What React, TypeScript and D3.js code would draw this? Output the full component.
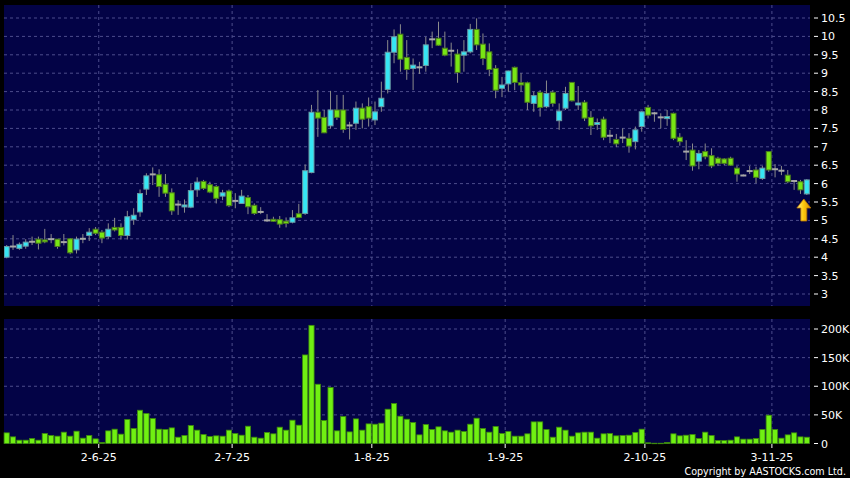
import React from "react";
import * as d3 from "d3";

// daily bars, oldest first (price in HKD, volume in thousands)
const opens = [
  4.0, 4.29, 4.24, 4.3, 4.42, 4.49, 4.47, 4.49, 4.49, 4.41,
  4.5, 4.2, 4.5, 4.59, 4.76, 4.68, 4.56, 4.81, 4.81, 4.59,
  5.02, 5.23, 5.85, 6.25, 6.24, 5.98, 5.75, 5.43, 5.37, 5.36,
  5.83, 6.06, 5.97, 5.92, 5.66, 5.8, 5.53, 5.46, 5.62, 5.41,
  5.23, 5.0, 5.03, 5.02, 4.98, 4.95, 5.18, 5.19, 6.3, 7.94,
  7.8, 7.57, 8.0, 8.0, 7.58, 7.64, 8.05, 8.09, 7.73, 8.09,
  8.56, 9.57, 10.06, 9.43, 9.13, 9.16, 9.21, 9.92, 9.95, 9.68,
  9.61, 9.52, 9.49, 9.58, 10.19, 9.79, 9.58, 9.13, 8.59, 8.71,
  9.16, 8.74, 8.74, 8.18, 8.48, 8.09, 8.48, 7.71, 8.05, 8.75,
  8.15, 8.21, 7.8, 7.62, 7.75, 7.3, 7.2, 7.25, 7.23, 7.14,
  7.55, 8.07, 7.91, 7.8, 7.8, 7.91, 7.26, 6.87, 6.91, 6.61,
  6.87, 6.76, 6.69, 6.67, 6.69, 6.42, 6.22, 6.34, 6.37, 6.14,
  6.87, 6.39, 6.35, 6.23, 6.07, 6.05, 5.72,
];
const highs = [
  4.33, 4.6, 4.4, 4.49, 4.56, 4.56, 4.77, 4.63, 4.49, 4.63,
  4.52, 4.56, 4.63, 4.79, 4.82, 4.74, 4.92, 5.07, 4.92, 5.26,
  5.33, 5.84, 6.28, 6.44, 6.39, 6.26, 5.87, 5.55, 5.57, 5.99,
  6.17, 6.1, 6.05, 5.96, 5.83, 5.84, 5.74, 5.83, 5.69, 5.46,
  5.36, 5.17, 5.1, 5.12, 5.08, 5.28, 5.45, 6.52, 8.14, 8.54,
  8.0, 8.52, 8.41, 8.41, 7.68, 8.23, 8.18, 8.34, 8.23, 8.77,
  9.9, 10.19, 10.33, 9.9, 9.4, 9.31, 9.99, 10.13, 10.4, 10.13,
  9.83, 9.65, 9.9, 10.34, 10.49, 10.08, 9.81, 9.22, 8.9, 9.07,
  9.18, 9.0, 8.77, 8.5, 8.54, 8.8, 8.54, 8.18, 8.63, 8.75,
  8.65, 8.27, 7.97, 7.77, 7.82, 7.46, 7.35, 7.5, 7.37, 7.55,
  7.97, 8.14, 7.95, 7.91, 8.0, 7.93, 7.37, 7.18, 7.09, 6.91,
  7.09, 6.96, 6.73, 6.69, 6.73, 6.48, 6.25, 6.48, 6.46, 6.48,
  6.87, 6.53, 6.48, 6.37, 6.08, 6.1, 6.12,
];
const lows = [
  3.97, 4.2, 4.2, 4.23, 4.33, 4.21, 4.38, 4.38, 4.23, 4.32,
  4.08, 4.1, 4.38, 4.44, 4.6, 4.38, 4.5, 4.7, 4.48, 4.48,
  4.88, 5.1, 5.69, 5.96, 5.64, 5.64, 5.15, 5.15, 5.21, 5.33,
  5.64, 5.83, 5.74, 5.46, 5.55, 5.36, 5.33, 5.45, 5.17, 5.15,
  5.17, 4.96, 4.96, 4.8, 4.81, 4.92, 5.06, 5.15, 6.28, 7.27,
  7.37, 7.5, 7.73, 7.38, 7.2, 7.46, 7.5, 7.55, 7.59, 7.95,
  8.45, 9.27, 9.04, 8.82, 8.54, 8.98, 9.04, 9.68, 9.74, 9.46,
  9.18, 8.74, 9.04, 9.54, 9.63, 9.22, 8.92, 8.32, 8.35, 8.5,
  8.54, 8.5, 8.0, 7.95, 7.82, 8.05, 8.09, 7.46, 8.0, 8.23,
  8.0, 7.7, 7.32, 7.46, 7.18, 7.1, 6.99, 7.1, 6.84, 6.93,
  7.41, 7.77, 7.68, 7.5, 7.57, 7.18, 7.03, 6.64, 6.35, 6.39,
  6.66, 6.42, 6.48, 6.5, 6.48, 6.05, 6.2, 6.26, 6.01, 6.1,
  6.32, 6.17, 6.23, 6.01, 5.83, 5.72, 5.69,
];
const closes = [
  4.29, 4.29, 4.35, 4.41, 4.42, 4.38, 4.42, 4.49, 4.29, 4.41,
  4.12, 4.49, 4.5, 4.68, 4.65, 4.52, 4.76, 4.74, 4.59, 5.1,
  5.14, 5.73, 6.21, 6.25, 5.92, 5.74, 5.26, 5.43, 5.42, 5.81,
  6.04, 5.87, 5.77, 5.6, 5.75, 5.4, 5.53, 5.66, 5.37, 5.19,
  5.23, 5.0, 5.0, 4.9, 4.92, 5.07, 5.08, 6.35, 7.94, 7.78,
  7.38, 8.0, 7.8, 7.47, 7.58, 8.05, 7.75, 7.78, 7.95, 8.32,
  9.57, 9.99, 9.38, 9.1, 9.22, 9.16, 9.77, 9.92, 9.76, 9.49,
  9.61, 9.02, 9.58, 10.19, 9.77, 9.4, 9.1, 8.54, 8.68, 9.06,
  8.75, 8.68, 8.21, 8.39, 8.07, 8.45, 8.18, 7.97, 8.45, 8.25,
  8.19, 7.78, 7.57, 7.66, 7.26, 7.3, 7.08, 7.25, 7.02, 7.46,
  7.95, 7.86, 7.91, 7.8, 7.82, 7.23, 7.14, 6.87, 6.48, 6.82,
  6.73, 6.48, 6.55, 6.55, 6.5, 6.26, 6.22, 6.34, 6.17, 6.42,
  6.37, 6.39, 6.35, 6.05, 6.07, 5.83, 6.1,
];
const volumes = [
  18.6, 11.6, 5.8, 5.8, 8.7, 5.8, 17.4, 14.0, 12.8, 19.8,
  12.8, 21.5, 9.3, 14.0, 8.1, 1.7, 22.1, 25.0, 16.3, 41.9,
  26.2, 58.1, 52.3, 43.6, 25.0, 24.4, 27.3, 11.0, 14.0, 31.4,
  23.3, 15.7, 12.2, 13.4, 12.8, 23.3, 17.4, 14.5, 30.2, 11.0,
  9.3, 19.2, 16.9, 28.5, 23.3, 40.7, 32.0, 154.7, 206.4, 103.5,
  40.1, 97.7, 22.1, 47.1, 20.3, 43.0, 23.3, 34.3, 33.7, 35.5,
  59.9, 69.8, 47.7, 42.4, 36.6, 15.1, 33.1, 24.4, 29.1, 22.1,
  19.8, 23.3, 20.9, 33.7, 44.2, 26.2, 19.8, 29.7, 17.4, 20.9,
  12.8, 12.8, 16.9, 37.8, 37.8, 24.4, 11.0, 28.5, 23.3, 12.8,
  18.6, 19.8, 19.8, 9.3, 16.9, 17.4, 13.4, 14.0, 14.5, 19.2,
  25.0, 1.2, 0.5, 0.5, 1.7, 16.9, 13.4, 14.5, 15.7, 8.7,
  19.8, 14.0, 5.2, 5.2, 5.8, 11.6, 7.6, 7.6, 8.7, 24.4,
  49.4, 24.4, 9.3, 15.1, 18.6, 11.6, 11.0,
];

const dateLabels = ["2-6-25", "2-7-25", "1-8-25", "1-9-25", "2-10-25", "3-11-25"];
const dateBars = [14, 35, 57, 78, 100, 120];
const priceTicks = [3, 3.5, 4, 4.5, 5, 5.5, 6, 6.5, 7, 7.5, 8, 8.5, 9, 9.5, 10, 10.5];
const volumeTicks = [0, 50, 100, 150, 200];

const W = 850;
const H = 478;
const plotLeft = 4;
const plotRight = 810;
const priceTop = 5;
const priceBottom = 306;
const volTop = 319;
const volBottom = 444;

const bg = "#030346";
const gridColor = "#4d4d8c";
const upFill = "#36e6f4";
const upStroke = "#6a9aa4";
const downFill = "#78e614";
const downStroke = "#4b7a1e";
const font = "'DejaVu Sans', Verdana, sans-serif";

export default function App() {
  const n = opens.length;
  const x = d3.scaleLinear().domain([-0.5, n - 0.5]).range([3.5, 810]);
  const y = d3.scaleLinear().domain([3, 10.5]).range([294, 18]);
  const yv = d3.scaleLinear().domain([0, 200]).range([443.5, 329]);
  const bodyW = 5;

  const gridX = dateBars.map((b) => x(b + 0.5));
  const last = n - 1;
  const ax = x(last) - 3;
  const ay = y(lows[last]) + 4;

  return (
    <svg
      width={W}
      height={H}
      style={{ position: "absolute", left: 0, top: 0, display: "block" }}
      fontFamily={font}
    >
      <defs>
        <linearGradient id="arrowFill" x1="0" x2="1" y1="0" y2="0">
          <stop offset="0" stopColor="#fff39a" />
          <stop offset="0.45" stopColor="#ffcc10" />
          <stop offset="1" stopColor="#d98a00" />
        </linearGradient>
        <clipPath id="priceClip">
          <rect x={plotLeft} y={priceTop} width={plotRight - plotLeft} height={priceBottom - priceTop} />
        </clipPath>
      </defs>
      <rect x={0} y={0} width={W} height={H} fill="#000" />

      {/* price panel */}
      <rect x={plotLeft} y={priceTop} width={plotRight - plotLeft} height={priceBottom - priceTop} fill={bg} />
      {priceTicks.map((t) => (
        <line key={"pg" + t} x1={plotLeft} x2={plotRight} y1={y(t)} y2={y(t)}
          stroke={gridColor} strokeDasharray="3,3" />
      ))}
      {gridX.map((gx, i) => (
        <line key={"pv" + i} x1={gx} x2={gx} y1={priceTop} y2={priceBottom}
          stroke={gridColor} strokeDasharray="3,3" />
      ))}
      <g clipPath="url(#priceClip)">
        {opens.map((o, i) => {
          const c = closes[i];
          const cx = x(i);
          const wick = (
            <line x1={cx} x2={cx} y1={y(highs[i])} y2={y(lows[i])} stroke="#8c8c8c" strokeWidth={1} />
          );
          if (o === c) {
            return (
              <g key={i}>
                {wick}
                <rect x={cx - bodyW / 2 - 0.5} y={y(o) - 1} width={bodyW + 1} height={2} fill="#a8a8a8" />
              </g>
            );
          }
          const up = c > o;
          const top = y(Math.max(o, c));
          const h = Math.max(2, y(Math.min(o, c)) - top);
          return (
            <g key={i}>
              {wick}
              <rect x={cx - bodyW / 2} y={top} width={bodyW} height={h}
                fill={up ? upFill : downFill} stroke={up ? upStroke : downStroke} strokeWidth={1} />
            </g>
          );
        })}
      </g>
      <path
        d={`M${ax},${ay} L${ax + 7},${ay + 9} L${ax + 3},${ay + 9} L${ax + 3},${ay + 22} L${ax - 3},${ay + 22} L${ax - 3},${ay + 9} L${ax - 7},${ay + 9} Z`}
        fill="url(#arrowFill)" stroke="#b77400" strokeWidth={0.8}
      />
      {priceTicks.map((t) => (
        <g key={"pl" + t}>
          <line x1={814} x2={818} y1={y(t)} y2={y(t)} stroke="#fff" />
          <text x={821} y={y(t) + 4} fill="#fff" fontSize={11}>{t}</text>
        </g>
      ))}

      {/* volume panel */}
      <rect x={plotLeft} y={volTop} width={plotRight - plotLeft} height={volBottom - volTop} fill={bg} />
      {volumeTicks.slice(1).map((t) => (
        <line key={"vg" + t} x1={plotLeft} x2={plotRight} y1={yv(t)} y2={yv(t)}
          stroke={gridColor} strokeDasharray="3,3" />
      ))}
      {gridX.map((gx, i) => (
        <line key={"vv" + i} x1={gx} x2={gx} y1={volTop} y2={volBottom}
          stroke={gridColor} strokeDasharray="3,3" />
      ))}
      {volumes.map((v, i) => (
        <rect key={"v" + i} x={x(i) - 2.6} y={yv(v)} width={5.2} height={Math.max(0.5, yv(0) - yv(v))}
          fill="#70f012" stroke="#3d8a0c" strokeWidth={0.8} />
      ))}
      {volumeTicks.map((t) => (
        <g key={"vl" + t}>
          <line x1={814} x2={818} y1={yv(t)} y2={yv(t)} stroke="#fff" />
          <text x={821} y={yv(t) + 4} fill="#fff" fontSize={11}>{t === 0 ? "0" : t + "K"}</text>
        </g>
      ))}

      {/* dates */}
      {dateLabels.map((lab, i) => (
        <g key={"d" + i}>
          <line x1={gridX[i]} x2={gridX[i]} y1={volBottom} y2={volBottom + 4} stroke="#fff" />
          <text x={gridX[i]} y={461} fill="#fff" fontSize={11} textAnchor="middle">{lab}</text>
        </g>
      ))}
      <text x={846} y={475} fill="#fff" fontSize={9.6} textAnchor="end">
        Copyright by AASTOCKS.com Ltd.
      </text>
    </svg>
  );
}
